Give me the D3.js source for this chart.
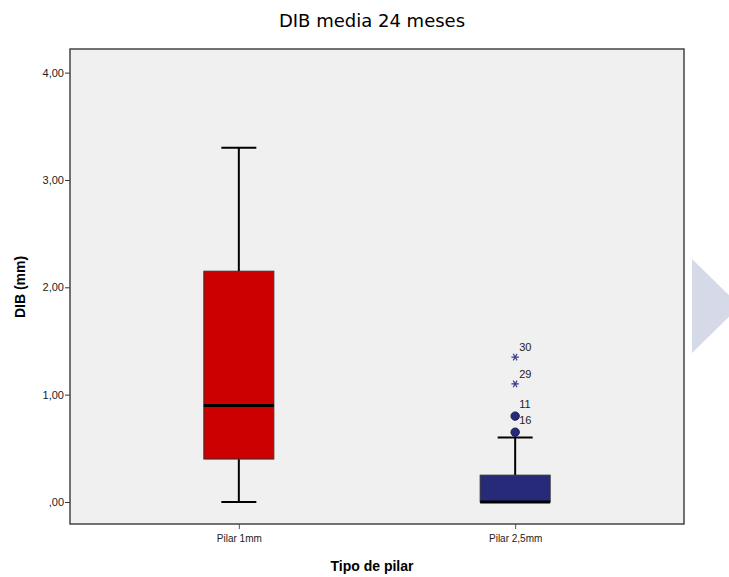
<!DOCTYPE html>
<html>
<head>
<meta charset="utf-8">
<script src="https://cdn.jsdelivr.net/npm/d3@7"></script>
<style>
  body { margin: 0; background: #fff; }
  svg { display: block; font-family: Arial, "Liberation Sans", sans-serif; }
</style>
</head>
<body>
<div id="chart"></div>
<script>
// box plot values
const categories = ['Pilar 1mm', 'Pilar 2,5mm'];
const whiskerLow = [0.00, 0.00];
const q1 = [0.40, 0.00];
const median = [0.90, 0.00];
const q3 = [2.15, 0.25];
const whiskerHigh = [3.30, 0.60];
const boxColors = ['#cc0000', '#262a78'];

// outliers (circle) and extremes (star) for Pilar 2,5mm
const outlierCats = ['Pilar 2,5mm', 'Pilar 2,5mm', 'Pilar 2,5mm', 'Pilar 2,5mm'];
const outlierValues = [0.65, 0.80, 1.10, 1.35];
const outlierLabels = ['16', '11', '29', '30'];
const outlierKinds = ['circle', 'circle', 'star', 'star'];

const yTicks = [0, 1, 2, 3, 4];

const width = 729;
const height = 577;
const plot = { left: 70, right: 684, top: 49, bottom: 524 };

const svg = d3.select('#chart')
  .append('svg')
  .attr('width', width)
  .attr('height', height);

// decorative arrow at the right edge
svg.append('polygon')
  .attr('points', '692,259 740,306 692,353')
  .attr('fill', '#d5d9e8');

const xScale = d3.scalePoint()
  .domain(categories)
  .range([plot.left, plot.right])
  .padding(0.611);

const yScale = d3.scaleLinear()
  .domain([-0.205, 4.22])
  .range([plot.bottom, plot.top]);

// title
svg.append('text')
  .attr('x', 372)
  .attr('y', 27)
  .attr('text-anchor', 'middle')
  .style('font-family', '"Segoe Print", "Comic Sans MS", "DejaVu Sans", sans-serif')
  .style('font-size', '18px')
  .text('DIB media 24 meses');

// plot background
svg.append('rect')
  .attr('x', plot.left)
  .attr('y', plot.top)
  .attr('width', plot.right - plot.left)
  .attr('height', plot.bottom - plot.top)
  .attr('fill', '#f0f0f0');

// axes
const yAxis = d3.axisLeft(yScale)
  .tickValues(yTicks)
  .tickSize(5)
  .tickFormat(d => d === 0 ? ',00' : d3.format('.2f')(d).replace('.', ','));
const gy = svg.append('g')
  .attr('transform', `translate(${plot.left},0)`)
  .call(yAxis);
gy.select('.domain').remove();
gy.selectAll('line').attr('stroke', '#333');
gy.selectAll('text').style('font-size', '11px').attr('fill', '#222').attr('x', -6);

const xAxis = d3.axisBottom(xScale).tickSize(5);
const gx = svg.append('g')
  .attr('transform', `translate(0,${plot.bottom})`)
  .call(xAxis);
gx.select('.domain').remove();
gx.selectAll('line').attr('stroke', '#555');
gx.selectAll('text').style('font-size', '10px').attr('fill', '#222').attr('y', 11);

// frame
svg.append('rect')
  .attr('x', plot.left)
  .attr('y', plot.top)
  .attr('width', plot.right - plot.left)
  .attr('height', plot.bottom - plot.top)
  .attr('fill', 'none')
  .attr('stroke', '#444')
  .attr('stroke-width', 1.5);

// boxes
const boxW = 70;
const capW = 35;
const boxes = svg.append('g').attr('class', 'boxes');
categories.forEach((cat, i) => {
  const cx = xScale(cat);
  const g = boxes.append('g');
  // whisker stems
  g.append('line')
    .attr('x1', cx).attr('x2', cx)
    .attr('y1', yScale(q3[i])).attr('y2', yScale(whiskerHigh[i]))
    .attr('stroke', '#000').attr('stroke-width', 2);
  g.append('line')
    .attr('x1', cx).attr('x2', cx)
    .attr('y1', yScale(q1[i])).attr('y2', yScale(whiskerLow[i]))
    .attr('stroke', '#000').attr('stroke-width', 2);
  // caps
  [whiskerHigh[i], whiskerLow[i]].forEach(v => {
    g.append('line')
      .attr('x1', cx - capW / 2).attr('x2', cx + capW / 2)
      .attr('y1', yScale(v)).attr('y2', yScale(v))
      .attr('stroke', '#000').attr('stroke-width', 2);
  });
  g.append('rect')
    .attr('x', cx - boxW / 2)
    .attr('y', yScale(q3[i]))
    .attr('width', boxW)
    .attr('height', yScale(q1[i]) - yScale(q3[i]))
    .attr('fill', boxColors[i])
    .attr('stroke', '#333')
    .attr('stroke-width', 1);
  g.append('line')
    .attr('x1', cx - boxW / 2).attr('x2', cx + boxW / 2)
    .attr('y1', yScale(median[i])).attr('y2', yScale(median[i]))
    .attr('stroke', '#000').attr('stroke-width', 3);
});

// outliers
const starPath = d3.symbol().type(d3.symbolAsterisk).size(40);
const outs = svg.append('g').attr('class', 'outliers');
outlierValues.forEach((v, i) => {
  const cx = xScale(outlierCats[i]);
  const cy = yScale(v);
  if (outlierKinds[i] === 'circle') {
    outs.append('circle')
      .attr('cx', cx).attr('cy', cy).attr('r', 4.2)
      .attr('fill', '#262a78').attr('stroke', '#1a1d55');
  } else {
    outs.append('path')
      .attr('d', starPath())
      .attr('transform', `translate(${cx},${cy}) rotate(30)`)
      .attr('fill', 'none')
      .attr('stroke', '#3a3d8f')
      .attr('stroke-width', 1.2);
  }
  outs.append('text')
    .attr('x', cx + 4)
    .attr('y', cy - (outlierKinds[i] === 'circle' ? 8 : 6))
    .style('font-size', '11px')
    .attr('fill', '#222')
    .text(outlierLabels[i]);
});

// axis titles
svg.append('text')
  .attr('x', 372)
  .attr('y', 571)
  .attr('text-anchor', 'middle')
  .style('font-size', '14px')
  .style('font-weight', 'bold')
  .text('Tipo de pilar');

svg.append('text')
  .attr('transform', `translate(25,${287}) rotate(-90)`)
  .attr('text-anchor', 'middle')
  .style('font-size', '14px')
  .style('font-weight', 'bold')
  .text('DIB (mm)');
</script>
</body>
</html>
